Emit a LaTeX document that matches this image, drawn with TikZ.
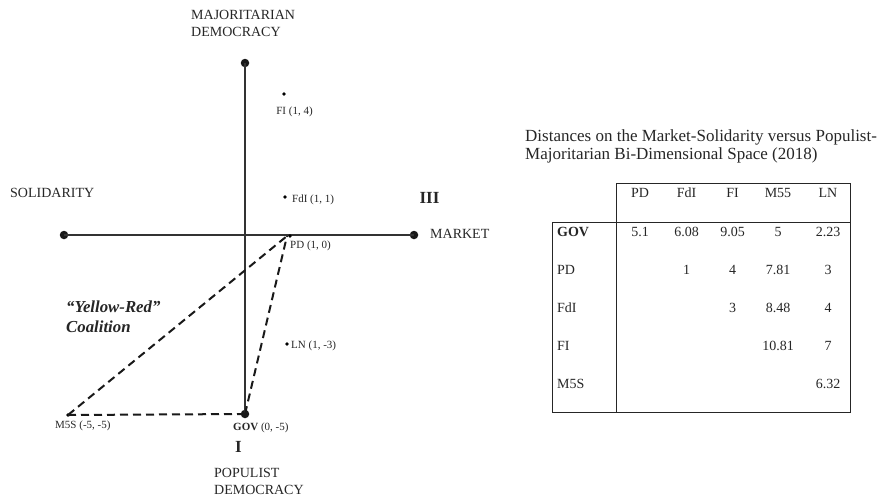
\documentclass[tikz,border=0pt]{standalone}
\usepackage{fontspec}
\setmainfont{Liberation Serif}
\begin{document}
\begin{tikzpicture}[x=1pt,y=-1pt,
  big/.style={font=\fontsize{14}{17}\selectfont, inner sep=0, align=left, text=black!85},
  small/.style={font=\fontsize{11}{13}\selectfont, inner sep=0, text=black!85},
  roman/.style={font=\fontsize{17}{20}\selectfont\bfseries, inner sep=0, text=black!85},
  bigdot/.style={circle, fill=black!90, inner sep=0, minimum size=8.5},
  pdot/.style={circle, fill=black, inner sep=0, minimum size=3.6},
  axisline/.style={line width=1.4, black!80},
  coal/.style={dash pattern=on 8pt off 5pt, line width=2, black!90},
  td/.style={font=\fontsize{14}{16}\selectfont, inner sep=0, text=black!85},
  tline/.style={line width=1, black!85}]
\useasboundingbox (0,0) rectangle (883,499);

% axes
\node[bigdot] (top) at (245,63) {};
\node[bigdot] (gov) at (245,414) {};
\node[bigdot] (left) at (64,235) {};
\node[bigdot] (right) at (414,235) {};
\draw[axisline] (top.center) -- (gov.center);
\draw[axisline] (left.center) -- (right.center);

% party dots
\node[pdot] (fi) at (284,94) {};
\node[pdot] (fdi) at (285,197) {};
\node[pdot] (pd) at (290,236) {};
\node[pdot] (ln) at (287,344) {};
\node[pdot] (m5s) at (68,415) {};
\coordinate (pdend) at (287,236);

% coalition
\draw[coal] (m5s.center) -- (gov.center);
\draw[coal] (gov.center) -- (pdend);
\draw[coal] (m5s.center) -- (pdend);

% labels
\node[small] (lfi) at (294.5,112) {FI (1, 4)};
\node[small, anchor=west] (lfdi) at (292,200) {FdI (1, 1)};
\node[small, anchor=west] (lpd) at (290,246) {PD (1, 0)};
\node[small, anchor=west] (lln) at (291,346) {LN (1, -3)};
\node[small, anchor=west] (lm5s) at (55,426) {M5S (-5, -5)};
\node[small, anchor=west] (lgov) at (233,428) {\textbf{GOV} (0, -5)};

\node[big, anchor=west] (maj) at (191,23.5) {MAJORITARIAN\\DEMOCRACY};
\node[big, anchor=west] (pop) at (214,481) {POPULIST\\DEMOCRACY};
\node[big, anchor=west] (sol) at (10,193) {SOLIDARITY};
\node[big, anchor=west] (mkt) at (430,234) {MARKET};
\node[roman] (r3) at (429.5,198) {III};
\node[roman] (r1) at (238.5,447) {I};
\node[inner sep=0, anchor=west, align=left, font=\fontsize{16.8}{20}\selectfont\bfseries\itshape, text=black!85] (yr) at (66,317) {“Yellow-Red”\\Coalition};

% table
\node[inner sep=0, anchor=west, align=left, font=\fontsize{17}{17.5}\selectfont, text=black!85] (title) at (525,146.5) {Distances on the Market-Solidarity versus Populist-\\Majoritarian Bi-Dimensional Space (2018)};

\coordinate (t1) at (616,183);
\coordinate (t2) at (850,183);
\coordinate (t3) at (850,412);
\coordinate (t4) at (552,412);
\coordinate (t5) at (552,222);
\coordinate (t7) at (616,412);
\draw[tline] (t1) -- (t2) -- (t3) -- (t4) -- (t5) -- (t2 |- t5);
\draw[tline] (t1) -- (t7);

\foreach \x/\t in {640/PD, 686.5/FdI, 732.5/FI, 778/M55, 828/LN}
  \node[td] at (\x,193) {\t};
\node[td, anchor=west] (rgov) at (557,232) {\textbf{GOV}};
\node[td, anchor=west] (rpd) at (557,270) {PD};
\node[td, anchor=west] (rfdi) at (557,308) {FdI};
\node[td, anchor=west] (rfi) at (557,346) {FI};
\node[td, anchor=west] (rm5s) at (557,384) {M5S};

\foreach \x/\t in {640/5.1, 686.5/6.08, 732.5/9.05, 778/5, 828/2.23}
  \node[td] at (\x,232) {\t};
\foreach \x/\t in {686.5/1, 732.5/4, 778/7.81, 828/3}
  \node[td] at (\x,270) {\t};
\foreach \x/\t in {732.5/3, 778/8.48, 828/4}
  \node[td] at (\x,308) {\t};
\foreach \x/\t in {778/10.81, 828/7}
  \node[td] at (\x,346) {\t};
\node[td] at (828,384) {6.32};
\end{tikzpicture}
\end{document}
